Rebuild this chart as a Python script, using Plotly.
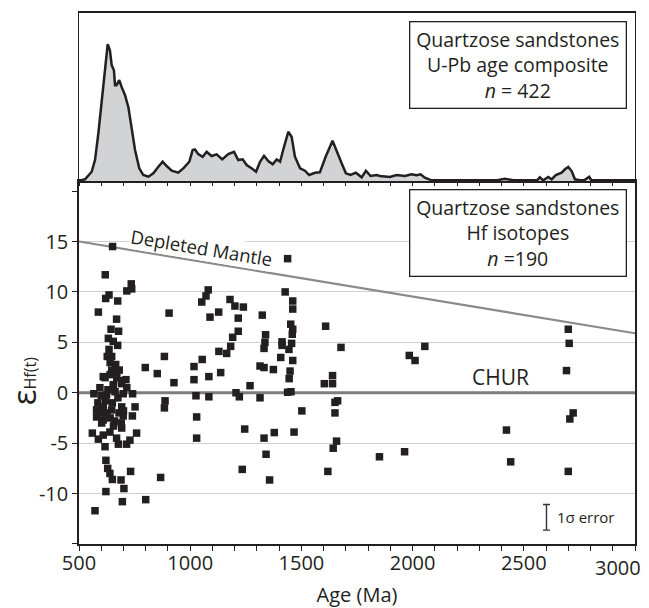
import plotly.graph_objects as go

# ---------------- data ----------------
# U-Pb age probability density (top panel), relative units
density_age = [497, 527, 557, 572, 587, 602, 617, 629, 639, 647, 657, 662, 669, 681, 692, 707, 722, 737, 752,
               771, 789, 812, 834, 857, 876, 894, 917, 946, 969, 996, 1011, 1021, 1036, 1056, 1074, 1096, 1119,
               1144, 1171, 1197, 1216, 1236, 1254, 1276, 1296, 1314, 1332, 1351, 1371, 1389, 1404, 1422, 1441,
               1456, 1471, 1494, 1516, 1535, 1561, 1583, 1609, 1640, 1661, 1681, 1700, 1721, 1745, 1771, 1790,
               1811, 1838, 1853, 1898, 1928, 1965, 1995, 2018, 2036, 2055, 2086, 2130, 2363, 2415, 2452, 2557,
               2572, 2587, 2610, 2625, 2644, 2670, 2685, 2700, 2715, 2730, 2767, 2794, 2806, 3000]
density_val = [0, 1.7, 9.3, 21, 47.7, 81, 117.7, 137, 131, 116, 111, 96, 96, 101, 94, 86, 74, 51, 31,
               12.7, 6, 4.3, 7.7, 14.3, 19.3, 15, 10.3, 8.3, 12.7, 19.3, 31, 31.7, 27, 24.3, 29.3, 25, 26.7,
               21.7, 27, 29.3, 21, 21.7, 16, 12.7, 9.3, 19.3, 25.3, 20, 16.7, 21.7, 19.3, 34.3, 49.3,
               44.3, 24.3, 12.7, 10.3, 6, 8.3, 8.7, 24.3, 40.3, 27.7, 17.7, 7.7, 6, 8.3, 3.7, 10.3,
               5, 6, 5, 4, 6, 5, 6.7, 5.7, 6.7, 3.3, 0.7, 0, 0, 2.3, 0.7, 0,
               3.7, 0.7, 4, 1.7, 6, 8.3, 11.7, 14, 10, 1.7, 0, 4.3, 0, 0]

# Hf isotope data: age (Ma) and epsilon Hf(t)
hf_age = [651, 618, 735, 715, 737, 635, 620, 674, 587, 669, 644, 678, 632, 654, 674, 635, 627, 647, 640,
          798, 852, 609, 647, 681, 617, 669, 711, 594, 654, 692, 567, 624, 662, 699, 741, 579, 609, 647,
          692, 752, 579, 609, 699, 740, 602, 692, 560, 609, 639, 759, 587, 669, 729, 617, 677, 714, 621,
          629, 639, 650, 732, 689, 867, 621, 702, 695, 800, 572,
          585, 600, 625, 650, 660, 680, 700, 620, 640, 655, 670, 690, 640, 665, 905, 884, 927, 887, 884,
          630, 600, 675, 715, 690, 655,
          1017, 1017, 1026, 1029, 1029,
          1438, 1081, 1071, 1052, 1179, 1201, 1239, 1128, 1089, 1216, 1324, 1427, 1461, 1461, 1609, 1452,
          1461, 1459, 1216, 1191, 1339, 1336, 1332, 1413, 1413, 1456, 1444, 1678, 1182, 1129, 1164, 1054,
          1407, 1461, 1314, 1332, 1374, 1449, 1445, 1640, 1084, 1137, 1269, 1603, 1640, 1438, 1453, 1084,
          1206, 1221, 1314, 1651, 1663, 1502, 1651, 1245, 1378, 1467, 1332, 1658, 1643, 1341, 1234, 1619,
          1357,
          2055, 1985, 2011, 2422, 1851, 1964, 2441, 2700, 2704, 2692, 2722, 2707, 2700]
hf_eps = [14.5, 11.7, 10.8, 10.1, 10.3, 9.7, 9.35, 9.1, 8.0, 7.3, 6.3, 6.1, 5.4, 5.1, 4.7, 4.3, 3.6, 3.6, 3.0,
          2.5, 1.9, 1.6, 2.25, 2.25, 1.5, 2.1, 1.3, 0.5, 0.8, 0.9, -0.1, -0.2, 0.1, -0.1, -0.1, -1.7, -1.4, -1.7,
          -1.4, -1.4, -2.4, -2.7, -2.3, -2.3, -3.0, -3.5, -4.0, -4.2, -3.9, -4.0, -4.6, -4.5, -4.7, -5.35, -5.1, -5.1, -6.7,
          -7.5, -8.0, -8.6, -7.8, -8.65, -8.4, -9.8, -9.5, -10.8, -10.6, -11.7,
          -1.0, -2.0, -2.0, -1.0, -2.8, -2.0, -1.8, -0.8, -2.5, 0.5, 1.5, 1.2, 1.8, 2.8, 7.9, 3.6, 1.0, -0.8, -1.5,
          0.3, -0.3, -0.5, 0.5, -3.0, -3.3,
          2.6, 1.3, -0.3, -2.4, -4.5,
          13.3, 10.2, 9.6, 9.0, 9.25, 8.6, 8.5, 8.0, 7.5, 7.4, 7.7, 10.0, 9.1, 8.3, 6.6, 6.8,
          6.3, 5.8, 6.1, 5.5, 5.75, 5.0, 4.4, 5.05, 4.7, 4.9, 4.3, 4.5, 4.6, 4.1, 3.9, 3.3,
          3.5, 3.2, 2.65, 2.5, 2.3, 2.15, 1.4, 1.7, 1.6, 2.0, 0.7, 0.9, 0.9, 0.05, 0.1, -0.4,
          0.0, -0.4, -0.5, -0.95, -0.8, -1.8, -2.0, -3.6, -3.95, -3.9, -4.5, -4.8, -5.5, -6.1, -7.6, -7.8,
          -8.65,
          4.6, 3.7, 3.2, -3.7, -6.35, -5.85, -6.85, 6.3, 4.9, 2.2, -2.0, -2.6, -7.8]

# reference evolution lines
dm_age = [500, 3000]
dm_eps = [15, 5.9]
chur_age = [500, 3000]
chur_eps = [0, 0]

# 1-sigma error indicator
err_age = [2602]
err_eps = [-12.35]
err_size = [1.27]

y_tickvals = [-10, -5, 0, 5, 10, 15]
y_ticktext = ["-10", "-5", "0", "5", "10", "15"]
x_tickvals = [500, 1000, 1500, 2000, 2500, 3000]
x_ticktext = ["500", "1000", "1500", "2000", "2500", ""]
x_last_label = "3000"

INK = "#231f20"
FONT = "Open Sans"

fig = go.Figure()

fig.add_trace(go.Scatter(x=density_age, y=density_val, xaxis="x2", yaxis="y2", mode="lines",
                         line=dict(color=INK, width=2.5), fill="tozeroy", fillcolor="#d1d3d4",
                         showlegend=False, hoverinfo="skip"))
fig.add_trace(go.Scatter(x=dm_age, y=dm_eps, mode="lines", line=dict(color="#8a8a8a", width=2.2),
                         showlegend=False, hoverinfo="skip"))
fig.add_trace(go.Scatter(x=chur_age, y=chur_eps, mode="lines", line=dict(color="#7d7d7d", width=3),
                         showlegend=False, hoverinfo="skip"))
fig.add_trace(go.Scatter(x=hf_age, y=hf_eps, mode="markers",
                         marker=dict(symbol="square", size=7.5, color=INK, line=dict(width=0)),
                         showlegend=False))
fig.add_trace(go.Scatter(x=err_age, y=err_eps, mode="markers", marker=dict(size=1, color="rgba(0,0,0,0)"),
                         error_y=dict(type="data", array=err_size, color="#333333", thickness=1.4, width=3.5),
                         showlegend=False, hoverinfo="skip"))

axis_line = dict(showline=True, linecolor=INK, mirror=True, automargin=False)

fig.update_layout(
    width=649, height=608,
    margin=dict(l=79, r=14, t=13, b=64),
    paper_bgcolor="white", plot_bgcolor="white",
    font=dict(family=FONT, color=INK, size=20),
    xaxis=dict(domain=[0, 1], anchor="y", range=[500, 3000], tickvals=x_tickvals, ticktext=x_ticktext,
               ticks="outside", ticklen=5, tickwidth=1.3, tickcolor=INK, ticklabelstandoff=-5,
               minor=dict(dtick=100, tick0=500, ticks="outside", ticklen=5, tickwidth=1.3, tickcolor=INK, showgrid=False),
               showgrid=False, zeroline=False, linewidth=1.5, tickfont=dict(size=20),
               title=dict(text="Age (Ma)", font=dict(size=20), standoff=13), **axis_line),
    yaxis=dict(domain=[0, 0.6836], anchor="x", range=[-15, 21], tickvals=y_tickvals, ticktext=y_ticktext,
               ticks="outside", ticklen=5, tickwidth=1.3, tickcolor=INK,
               minor=dict(tickvals=[-15, 20], ticks="outside", ticklen=5, tickwidth=1.3, tickcolor=INK, showgrid=False),
               showgrid=True, gridcolor="#cfcfcf", gridwidth=1.3, zeroline=False, linewidth=1.5,
               tickfont=dict(size=20), **axis_line),
    xaxis2=dict(domain=[0, 1], anchor="y2", range=[500, 3000], showticklabels=False,
                ticks="outside", ticklen=3, tickwidth=1.2, tickcolor=INK, dtick=100, tick0=500,
                showgrid=False, zeroline=False, linewidth=1.8, **axis_line),
    yaxis2=dict(domain=[0.6836, 1], anchor="x2", range=[0, 168.3], showticklabels=False, ticks="",
                showgrid=False, zeroline=False, linewidth=1.3, **axis_line),
)

box_style = dict(xref="paper", yref="paper", xanchor="center", yanchor="middle", showarrow=False,
                 bgcolor="white", bordercolor=INK, borderwidth=1.3, borderpad=0, width=215, height=85,
                 font=dict(size=19.5, family=FONT, color=INK))
fig.add_annotation(x=0.789, y=0.902, text="Quartzose sandstones<br>U-Pb age composite<br><i>n</i> = 422", **box_style)
fig.add_annotation(x=0.789, y=0.5866, text="Quartzose sandstones<br>Hf isotopes<br><i>n</i> =190", **box_style)

fig.add_annotation(x=1052, y=14.45, xref="x", yref="y", text="Depleted Mantle", showarrow=False,
                   xanchor="center", yanchor="middle",
                   textangle=9.4, bgcolor="white", borderpad=0, font=dict(size=18.5, family=FONT, color=INK))
fig.add_annotation(x=2397, y=1.55, xref="x", yref="y", text="CHUR", showarrow=False,
                   xanchor="center", yanchor="middle", font=dict(size=21, family=FONT, color=INK))
fig.add_annotation(x=2640, y=-12.3, xref="x", yref="y", text="1σ error", showarrow=False,
                   xanchor="left", yanchor="middle", font=dict(size=15, family=FONT, color=INK))
fig.add_annotation(x=3000, y=0, xref="x", yref="paper", text=x_last_label, showarrow=False,
                   xanchor="right", yanchor="top", xshift=8, yshift=-8, font=dict(size=20, family=FONT, color=INK))
fig.add_annotation(x=-0.0985, y=0.307, xref="paper", yref="paper", textangle=-90, showarrow=False,
                   xanchor="center", yanchor="middle",
                   text="<span style='font-size:33px'>ε</span><span style='font-size:16px'>Hf(t)</span>",
                   font=dict(size=16, family=FONT, color=INK))

fig.write_html("out.html", config={"displayModeBar": False},
               post_script="document.body.style.margin='0';document.body.style.overflow='hidden';")
